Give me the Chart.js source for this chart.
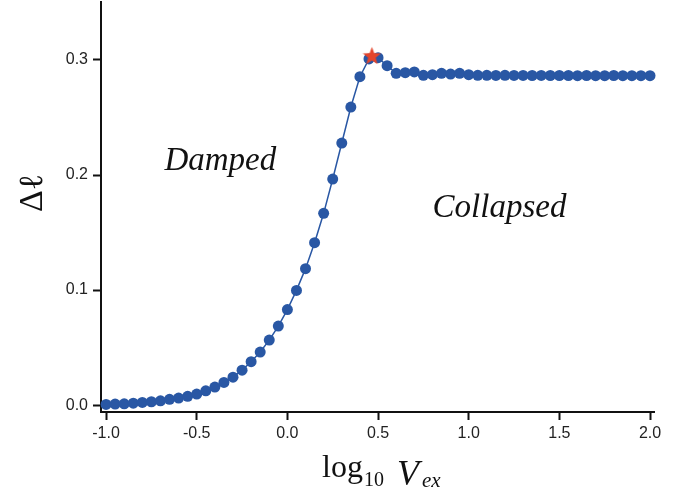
<!DOCTYPE html>
<html>
<head>
<meta charset="utf-8">
<script src="https://cdn.jsdelivr.net/npm/chart.js@4.4.1/dist/chart.umd.min.js"></script>
<style>
    html, body { margin: 0; padding: 0; background: #fff; }
    #wrap { width: 689px; height: 497px; position: relative; }
</style>
</head>
<body>
<div id="wrap"><canvas id="chart"></canvas></div>
<script>
// Data
const logV = [
    -1.00, -0.95, -0.90, -0.85, -0.80, -0.75, -0.70, -0.65, -0.60, -0.55,
    -0.50, -0.45, -0.40, -0.35, -0.30, -0.25, -0.20, -0.15, -0.10, -0.05,
    0.00, 0.05, 0.10, 0.15, 0.20, 0.25, 0.30, 0.35, 0.40, 0.45,
    0.50, 0.55, 0.60, 0.65, 0.70, 0.75, 0.80, 0.85, 0.90, 0.95,
    1.00, 1.05, 1.10, 1.15, 1.20, 1.25, 1.30, 1.35, 1.40, 1.45,
    1.50, 1.55, 1.60, 1.65, 1.70, 1.75, 1.80, 1.85, 1.90, 1.95,
    2.00
];
const deltaL = [
    0.0006, 0.0009, 0.0011, 0.0017, 0.0023, 0.0029, 0.0037, 0.0050, 0.0061, 0.0076,
    0.0096, 0.0124, 0.0157, 0.0197, 0.0243, 0.0304, 0.0377, 0.0461, 0.0565, 0.0687,
    0.0830, 0.0997, 0.1186, 0.1412, 0.1667, 0.1965, 0.2278, 0.2591, 0.2855, 0.3009,
    0.3020, 0.2950, 0.2884, 0.2890, 0.2896, 0.2867, 0.2872, 0.2884, 0.2878, 0.2884,
    0.2872, 0.2867, 0.2867, 0.2866, 0.2867, 0.2866, 0.2866, 0.2865, 0.2866, 0.2865,
    0.2865, 0.2865, 0.2864, 0.2865, 0.2864, 0.2864, 0.2865, 0.2864, 0.2864, 0.2864,
    0.2864
];
const peakX = [0.466];
const peakY = [0.304];
const xTicks = [-1.0, -0.5, 0.0, 0.5, 1.0, 1.5, 2.0];
const yTicks = [0.0, 0.1, 0.2, 0.3];
const regionLabels = ['Damped', 'Collapsed'];
const regionX = [-0.37, 1.17];
const regionY = [0.2043, 0.1637];

const blue = '#2957a4';
const red = '#e4452b';

// filled five-point star for the peak marker
function makeStar(size, color) {
    const c = document.createElement('canvas');
    c.width = size;
    c.height = size;
    const g = c.getContext('2d');
    const cx = size / 2, cy = size / 2 + 1;
    const ro = size / 2, ri = ro * 0.42;
    g.beginPath();
    for (let i = 0; i < 10; i++) {
        const r = i % 2 === 0 ? ro : ri;
        const a = -Math.PI / 2 + i * Math.PI / 5;
        const px = cx + r * Math.cos(a), py = cy + r * Math.sin(a);
        if (i === 0) g.moveTo(px, py); else g.lineTo(px, py);
    }
    g.closePath();
    g.fillStyle = color;
    g.fill();
    return c;
}

// axis titles and region labels
const textPlugin = {
    id: 'texts',
    afterDraw(chart) {
        const ctx = chart.ctx;
        const xs = chart.scales.x, ys = chart.scales.y;
        ctx.save();
        ctx.fillStyle = '#111';
        ctx.textBaseline = 'alphabetic';

        // region labels
        ctx.font = 'italic 33px "Liberation Serif"';
        ctx.textAlign = 'center';
        regionLabels.forEach((t, i) => {
            ctx.fillText(t, xs.getPixelForValue(regionX[i]), ys.getPixelForValue(regionY[i]));
        });

        // y title: Δℓ
        ctx.save();
        ctx.translate(42, 193);
        ctx.rotate(-Math.PI / 2);
        ctx.textAlign = 'center';
        ctx.font = '34px "Liberation Serif"';
        ctx.fillText('Δℓ', 0, 0);
        ctx.restore();

        // x title: log10 Vex
        ctx.textAlign = 'left';
        ctx.font = '32px "Liberation Serif"';
        ctx.fillText('log', 322, 477);
        ctx.font = '20px "Liberation Serif"';
        ctx.fillText('10', 364, 486);
        ctx.font = 'italic 36px "Liberation Serif"';
        ctx.fillText('V', 397, 485);
        ctx.font = 'italic 21px "Liberation Serif"';
        ctx.fillText('ex', 422, 487);
        ctx.restore();
    }
};

const tickFont = { family: '"Liberation Sans", Arial, sans-serif', size: 16 };

new Chart(document.getElementById('chart'), {
    type: 'scatter',
    data: {
        datasets: [
            {
                data: peakX.map((v, i) => ({ x: v, y: peakY[i] })),
                pointStyle: makeStar(19, red),
                pointRadius: 9,
                showLine: false,
                clip: false,
                order: 0
            },
            {
                data: logV.map((v, i) => ({ x: v, y: deltaL[i] })),
                showLine: true,
                borderColor: blue,
                borderWidth: 1.5,
                backgroundColor: blue,
                pointBackgroundColor: blue,
                pointBorderWidth: 0,
                pointRadius: 5.5,
                tension: 0,
                clip: false,
                order: 1
            }
        ]
    },
    options: {
        responsive: true,
        maintainAspectRatio: false,
        animation: false,
        layout: { autoPadding: false, padding: { top: 2, right: 35, left: 0, bottom: 0 } },
        plugins: {
            legend: { display: false },
            tooltip: { enabled: false }
        },
        scales: {
            x: {
                type: 'linear',
                min: -1.028,
                max: 2.022,
                afterBuildTicks: s => { s.ticks = xTicks.map(v => ({ value: v })); },
                afterFit: s => { s.height = 85; s.paddingLeft = 0; s.paddingRight = 0; },
                ticks: {
                    font: tickFont,
                    color: '#222',
                    padding: 4,
                    maxRotation: 0,
                    autoSkip: false,
                    callback: v => v.toFixed(1)
                },
                grid: {
                    drawOnChartArea: false,
                    drawTicks: true,
                    tickLength: 8,
                    tickWidth: 2,
                    tickColor: '#111'
                },
                border: { color: '#111', width: 2 }
            },
            y: {
                min: -0.006,
                max: 0.3504,
                afterBuildTicks: s => { s.ticks = yTicks.map(v => ({ value: v })); },
                afterFit: s => { s.width = 101; s.paddingTop = 0; s.paddingBottom = 0; },
                ticks: {
                    font: tickFont,
                    color: '#222',
                    padding: 5,
                    autoSkip: false,
                    callback: v => v.toFixed(1)
                },
                grid: {
                    drawOnChartArea: false,
                    drawTicks: true,
                    tickLength: 8,
                    tickWidth: 2,
                    tickColor: '#111'
                },
                border: { color: '#111', width: 2 }
            }
        }
    },
    plugins: [textPlugin]
});
</script>
</body>
</html>
